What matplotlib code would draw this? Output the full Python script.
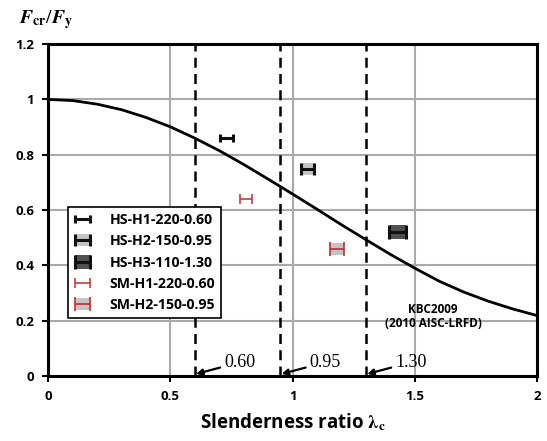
import matplotlib
matplotlib.use("Agg")
import matplotlib.pyplot as plt
from matplotlib.ticker import FuncFormatter

plt.rcParams['font.family'] = ['Open Sans', 'DejaVu Sans']
plt.rcParams['mathtext.fontset'] = 'stix'

# column curve
curve_x = [0.0, 0.1, 0.2, 0.3, 0.4, 0.5, 0.6, 0.7, 0.8, 0.9, 1.0,
           1.1, 1.2, 1.3, 1.4, 1.5, 1.6, 1.7, 1.8, 1.9, 2.0]
curve_y = [1.000, 0.996, 0.983, 0.963, 0.935, 0.901, 0.860, 0.815, 0.765, 0.712, 0.658,
           0.603, 0.547, 0.493, 0.440, 0.390, 0.343, 0.304, 0.271, 0.243, 0.219]

# test specimens
names = ['HS-H1-220-0.60', 'HS-H2-150-0.95', 'HS-H3-110-1.30', 'SM-H1-220-0.60', 'SM-H2-150-0.95']
spec_x = [0.73, 1.06, 1.43, 0.81, 1.18]
spec_y = [0.86, 0.75, 0.52, 0.64, 0.46]
spec_w = [0.027, 0.027, 0.035, 0.025, 0.028]

limits = [0.60, 0.95, 1.30]
limit_labels = ['0.60', '0.95', '1.30']

edge = ['#111111', '#111111', '#111111', '#c42a2e', '#c42a2e']
fill = [None, '#c4c4c4', '#505050', None, '#c4c4c4']
box_ms = [0, 9.4, 12.2, 0, 10]
caps = [3.2, 4.3, 5.0, 3.4, 4.7]
lw = [2.2, 2.2, 2.2, 1.1, 1.2]

rect = [(-1, -0.85), (1, -0.85), (1, 0.85), (-1, 0.85), (-1, -0.85)]

fig = plt.figure(figsize=(5.47, 4.41), dpi=100)
ax = fig.add_axes([0.088, 0.147, 0.894, 0.753])

ax.set_xlim(0, 2)
ax.set_ylim(0, 1.2)
ax.set_xticks([0, 0.5, 1, 1.5, 2])
ax.set_yticks([0, 0.2, 0.4, 0.6, 0.8, 1.0, 1.2])
fmt = FuncFormatter(lambda v, p: '%g' % v)
ax.xaxis.set_major_formatter(fmt)
ax.yaxis.set_major_formatter(fmt)
ax.grid(True, color='#aaaaaa', lw=1.5)
ax.set_axisbelow(True)
for s in ax.spines.values():
    s.set_color('black')
    s.set_linewidth(2.2)
ax.tick_params(direction='out', length=4, width=1.5, labelsize=9.5, pad=6)
for lab in ax.get_xticklabels() + ax.get_yticklabels():
    lab.set_fontweight('bold')

ax.plot(curve_x, curve_y, color='black', lw=2, zorder=3)

for xv, txt in zip(limits, limit_labels):
    ax.axvline(xv, color='black', ls='--', lw=1.8, dashes=(4, 2.5), zorder=3)
    ax.annotate(txt, xy=(xv + 0.005, 0.008), xytext=(xv + 0.12, 0.05),
                fontsize=13, family='Liberation Serif', ha='left', va='center',
                arrowprops=dict(arrowstyle='-|>', color='black', lw=1.6,
                                mutation_scale=9, shrinkA=1, shrinkB=0))

handles = []
for i in range(len(names)):
    parts = []
    if fill[i] is not None:
        box, = ax.plot([spec_x[i]], [spec_y[i]], ls='none', marker=rect, ms=box_ms[i],
                       mfc=fill[i], mec=fill[i], mew=0, zorder=4)
        parts.append(box)
    eb = ax.errorbar([spec_x[i]], [spec_y[i]], xerr=[spec_w[i]], fmt='none',
                     ecolor=edge[i], elinewidth=lw[i], capsize=caps[i],
                     capthick=lw[i], zorder=5)
    parts.append(eb)
    handles.append(tuple(parts))

ax.text(1.575, 0.215, 'KBC2009\n(2010 AISC-LRFD)', ha='center', va='center',
        fontsize=8.5, fontweight='bold', linespacing=1.1, zorder=5)

leg = ax.legend(handles, names, loc='lower left', bbox_to_anchor=(0.04, 0.175), fancybox=False,
                framealpha=1, edgecolor='black', prop={'weight': 'bold', 'size': 10.2},
                handlelength=1.2, handletextpad=1.3, borderpad=0.45, labelspacing=0.5,
                borderaxespad=0)
leg.get_frame().set_linewidth(1.2)

ax.set_xlabel('Slenderness ratio $\\mathbf{\\lambda}_{\\mathbf{c}}$', fontsize=13.5,
              fontweight='bold', labelpad=6)
fig.text(0.035, 0.955, '$\\boldsymbol{F}_{\\mathbf{cr}}/\\boldsymbol{F}_{\\mathbf{y}}$', fontsize=14,
         va='center')

fig.savefig('out.png', dpi=100)
